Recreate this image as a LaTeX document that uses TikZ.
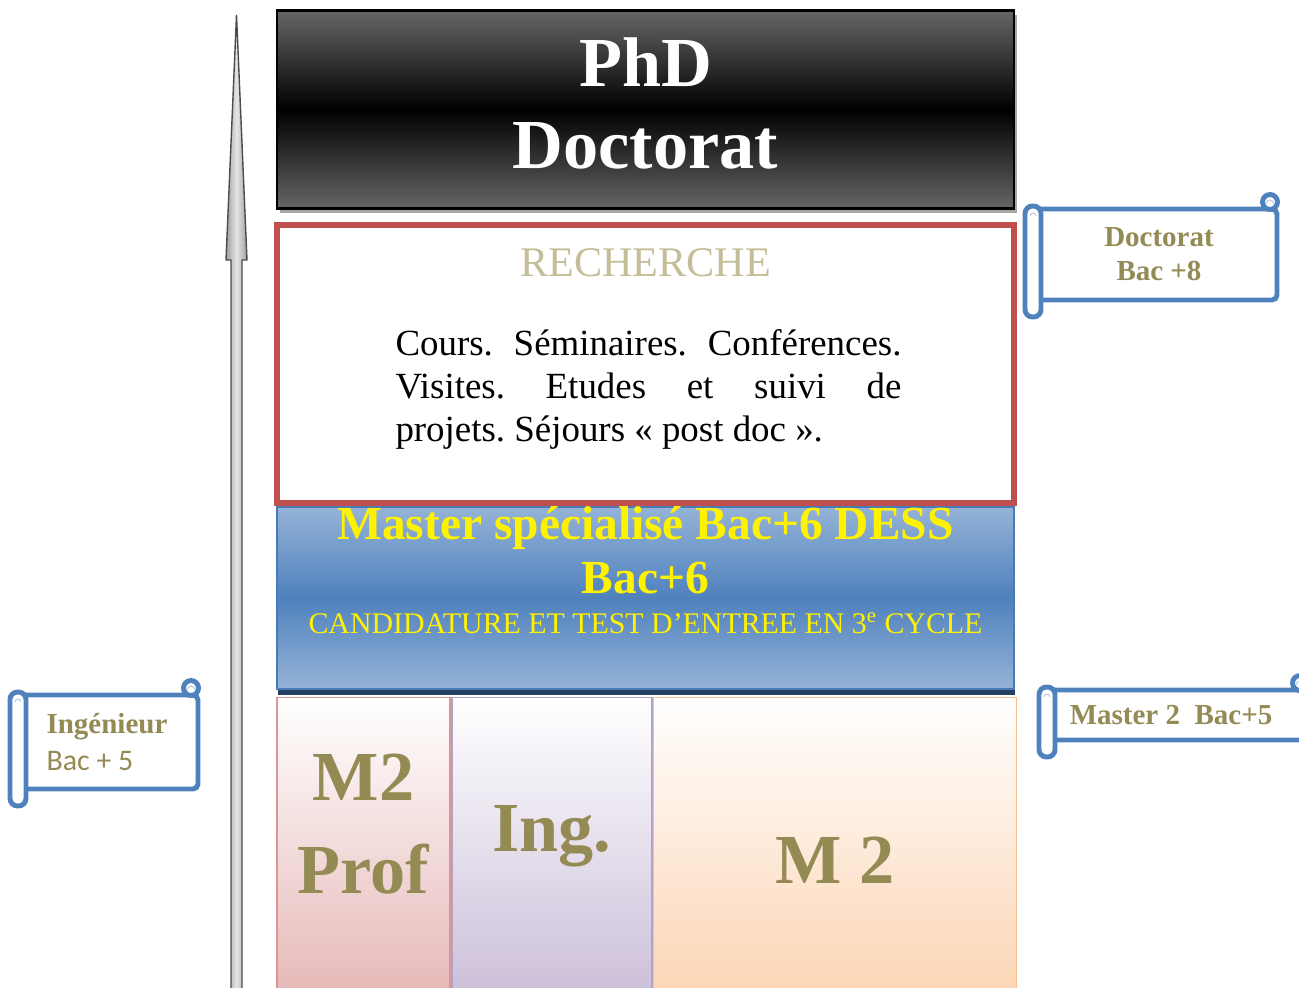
\documentclass[tikz,border=0pt]{standalone}
\usepackage{fontspec}
\setmainfont{Liberation Serif}
\newfontfamily\calibri{Carlito}
\usetikzlibrary{positioning,shadows}
\frenchspacing

\definecolor{labelolive}{HTML}{948A54}
\definecolor{rechtan}{HTML}{C4BD97}
\definecolor{rechred}{HTML}{C0504D}
\definecolor{officeblue}{HTML}{4F81BD}
\definecolor{lightblue}{HTML}{95B3D7}
\definecolor{masterline}{HTML}{4A7AB5}
\definecolor{masterdark}{HTML}{243F60}
\definecolor{pinkcol}{HTML}{E6B9B8}
\definecolor{pinkline}{HTML}{D99694}
\definecolor{lavcol}{HTML}{CCC0DA}
\definecolor{lavline}{HTML}{B3A2C7}
\definecolor{peachcol}{HTML}{FCD5B5}
\definecolor{peachline}{HTML}{FAC090}

\tikzset{
  phdbox/.style={draw=black, line width=1.6pt, rectangle, minimum width=14.74cm, minimum height=3.96cm,
    top color=black!60, bottom color=black!60, middle color=black,
    drop shadow={shadow xshift=0.05cm, shadow yshift=-0.08cm, opacity=0.35, fill=black}},
  phdtext/.style={text=white, align=center, inner sep=0pt, font=\bfseries\fontsize{40}{47}\selectfont},
  rechbox/.style={draw=rechred, line width=3.4pt, rectangle, fill=white, minimum width=14.74cm, minimum height=5.56cm},
  masterbox/.style={draw=masterline, line width=1pt, rectangle, minimum width=14.74cm, minimum height=3.64cm,
    top color=lightblue, bottom color=lightblue, middle color=officeblue,
    drop shadow={shadow xshift=0.02cm, shadow yshift=-0.12cm, opacity=1, fill=masterdark}},
  colbox/.style={draw, line width=1pt, rectangle, minimum height=5.9cm, top color=white},
  coltext/.style={text=labelolive, font=\bfseries\fontsize{40}{52.7}\selectfont, align=center, inner sep=0pt},
  scrollline/.style={draw=officeblue, line width=2.8pt},
  scrollcurl/.style={draw=officeblue!40, line width=0.6pt},
  scrolltext/.style={text=labelolive, font=\bfseries\fontsize{16.5}{19.3}\selectfont, align=center, inner sep=0pt}
}

\newcommand{\scrollbox}[7]{%
  \draw[scrollline, fill=white, rounded corners=0.1cm] ({#1+0.2},{#2-0.32}) -- ({#3-0.06},{#2-0.32}) -- ({#3-0.06},{#4+0.34}) -- ({#1+0.2},{#4+0.34});
  \draw[scrollline, fill=white] ({#3-0.2},{#2-0.18}) circle (0.15);
  \draw[scrollcurl] ({#3-0.28},{#2-0.22}) arc (180:0:0.08);
  \draw[scrollline, fill=white, rounded corners=0.15cm] ({#1+0.04},{#2-0.26}) rectangle ({#1+0.36},{#4});
  \draw[scrollcurl] ({#1+0.14},{#2-0.46}) arc (180:0:0.06);
  \node[scrolltext, #6] (#5) at ({(#1+#3+0.3)/2},{(#2+#4+0.02)/2}) {#7};
}

\begin{document}
\begin{tikzpicture}
\useasboundingbox (0,0) rectangle (25.98,-19.74);
\clip (0,0) rectangle (25.98,-19.74);

\draw[left color=gray!75, right color=gray!75, middle color=gray!20, draw=gray!60!black, line width=0.8pt]
  (4.62,-19.9) -- (4.62,-5.2) -- (4.52,-5.2) -- (4.73,-0.3) -- (4.94,-5.2) -- (4.84,-5.2) -- (4.84,-19.9) -- cycle;

\node[phdbox] (phd) at (12.91,-2.19) {};
\node[phdtext] (phdtxt) at ([yshift=0.12cm]phd.center) {PhD\\Doctorat};
\node[rechbox, below=0.24cm of phd] (rech) {};
\node[text=rechtan, font=\fontsize{24}{28}\selectfont, inner sep=0pt, below=0.52cm of rech.north] (rechtitle) {RECHERCHE};
\node[text width=10.12cm, align=justify, font=\fontsize{21}{24.4}\selectfont, inner sep=0pt, below=2.14cm of rech.north, xshift=0.06cm] (rechtext)
  {Cours. Séminaires. Conférences.\linebreak Visites. Etudes et suivi de\linebreak projets. Séjours « post doc ».};

\node[masterbox, below=0pt of rech] (master) {};
\node[text=yellow, align=center, font=\bfseries\fontsize{27}{31}\selectfont, inner sep=0pt, below=0cm of master.north] (mastertxt)
  {Master spécialisé Bac+6 DESS\\Bac+6\\[-8.3pt]{\mdseries\fontsize{17}{20}\selectfont CANDIDATURE ET TEST D’ENTREE EN 3\textsuperscript{e} CYCLE}};

\node[colbox, draw=pinkline, bottom color=pinkcol, minimum width=3.46cm, below right=0.14cm and 0cm of master.south west] (prof) {};
\node[colbox, draw=lavline, bottom color=lavcol, minimum width=4cm, right=0pt of prof] (ing) {};
\node[colbox, draw=peachline, bottom color=peachcol, minimum width=7.26cm, right=0pt of ing] (mtwo) {};
\node[coltext, below=1.14cm of prof.north] (proftxt) {M2\\Prof};
\node[coltext, below=2.16cm of ing.north] (ingtxt) {Ing.};
\node[coltext, below=2.8cm of mtwo.north] (mtwotxt) {M 2};

\scrollbox{20.46}{-3.86}{25.6}{-6.34}{docscroll}{}{Doctorat\\Bac +8}
\scrollbox{0.16}{-13.58}{4.02}{-16.12}{ingscroll}{align=left, xshift=-0.1cm}{Ingénieur\\[2pt]{\calibri\mdseries\fontsize{17}{20}\selectfont Bac + 5}}
\scrollbox{20.74}{-13.48}{26.2}{-15.14}{mastscroll}{xshift=-0.2cm}{Master 2\ \ Bac+5}
\end{tikzpicture}
\end{document}
